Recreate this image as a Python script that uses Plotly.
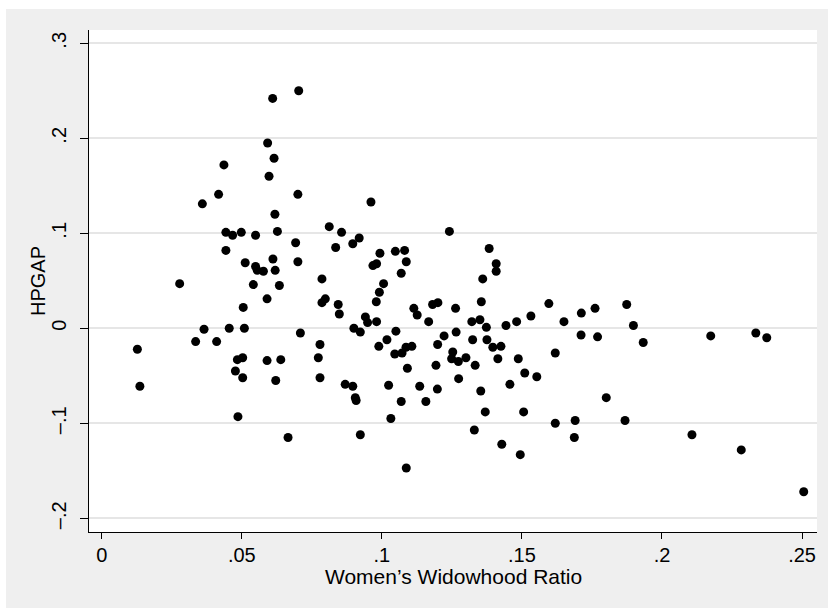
import plotly.graph_objects as go

# Women's Widowhood Ratio (x) and HPGAP (y)
widowhood = [
    0.0703, 0.0610, 0.0592, 0.0615, 0.0436, 0.0597, 0.0417, 0.0700, 0.0359, 0.0618,
    0.0443, 0.0467, 0.0498, 0.0549, 0.0627, 0.0812,
    0.0692, 0.0835, 0.0443, 0.0512, 0.0611, 0.0700, 0.0549, 0.0555, 0.0577, 0.0619,
    0.0278, 0.0541, 0.0634, 0.0786, 0.0590, 0.0798, 0.0786, 0.0844, 0.0505, 0.0848,
    0.0365, 0.0455, 0.0509, 0.0709, 0.0127, 0.0335, 0.0410, 0.0779, 0.0484, 0.0503,
    0.0590, 0.0639, 0.0773, 0.0477, 0.0503, 0.0621, 0.0779, 0.0136, 0.0486, 0.0665,
    0.0856, 0.0961, 0.0896, 0.0919, 0.0993, 0.0968, 0.0981, 0.1048, 0.1081, 0.1087,
    0.1069, 0.1006, 0.0991, 0.0980, 0.1241, 0.1383, 0.1408, 0.1408, 0.1360, 0.1355,
    0.1114, 0.1126, 0.1181, 0.1200, 0.1167, 0.1263, 0.1321, 0.1350, 0.1373, 0.1443,
    0.1481, 0.1532, 0.1596, 0.0900, 0.0923, 0.0941, 0.0949, 0.0981, 0.0989, 0.1018,
    0.1050, 0.1046, 0.1072, 0.1086, 0.1107, 0.1091, 0.1024, 0.0869, 0.0896, 0.0905,
    0.0908, 0.0923, 0.1032, 0.1069, 0.1135, 0.1157, 0.1198, 0.1087, 0.1193, 0.1199,
    0.1222, 0.1265, 0.1253, 0.1249, 0.1273, 0.1300, 0.1274, 0.1324, 0.1333, 0.1375,
    0.1396, 0.1425, 0.1414, 0.1487, 0.1510, 0.1553, 0.1457, 0.1353, 0.1369, 0.1330,
    0.1428, 0.1494, 0.1506,
    0.1650, 0.1712, 0.1761, 0.1874, 0.1898, 0.1711, 0.1770, 0.1933, 0.1619, 0.2174,
    0.2335, 0.2374, 0.1801, 0.1619, 0.1690, 0.1687, 0.1868, 0.2107, 0.2283, 0.2506,
]
hpgap = [
    0.250, 0.242, 0.195, 0.179, 0.172, 0.160, 0.141, 0.141, 0.131, 0.120,
    0.101, 0.098, 0.101, 0.098, 0.102, 0.107,
    0.090, 0.085, 0.082, 0.069, 0.073, 0.070, 0.065, 0.061, 0.060, 0.061,
    0.047, 0.046, 0.045, 0.052, 0.031, 0.031, 0.027, 0.025, 0.022, 0.015,
    -0.001, 0.000, 0.000, -0.005, -0.022, -0.014, -0.014, -0.017, -0.033, -0.031,
    -0.034, -0.033, -0.031, -0.045, -0.052, -0.055, -0.052, -0.061, -0.093, -0.115,
    0.101, 0.133, 0.089, 0.095, 0.079, 0.066, 0.068, 0.081, 0.082, 0.070,
    0.058, 0.047, 0.038, 0.028, 0.102, 0.084, 0.068, 0.060, 0.052, 0.028,
    0.021, 0.014, 0.025, 0.027, 0.007, 0.021, 0.007, 0.009, 0.001, 0.003,
    0.007, 0.013, 0.026, 0.000, -0.004, 0.012, 0.006, 0.007, -0.019, -0.012,
    -0.003, -0.027, -0.026, -0.020, -0.019, -0.042, -0.060, -0.059, -0.061, -0.073,
    -0.076, -0.112, -0.095, -0.077, -0.061, -0.077, -0.064, -0.147, -0.039, -0.017,
    -0.008, -0.004, -0.025, -0.032, -0.035, -0.031, -0.053, -0.012, -0.039, -0.012,
    -0.020, -0.019, -0.032, -0.032, -0.047, -0.051, -0.059, -0.066, -0.088, -0.107,
    -0.122, -0.133, -0.088,
    0.007, 0.016, 0.021, 0.025, 0.003, -0.007, -0.009, -0.015, -0.026, -0.008,
    -0.005, -0.010, -0.073, -0.100, -0.097, -0.115, -0.097, -0.112, -0.128, -0.172,
]

x_ticks = [0, 0.05, 0.10, 0.15, 0.20, 0.25]
x_tick_labels = ["0", ".05", ".1", ".15", ".2", ".25"]
y_ticks = [-0.2, -0.1, 0, 0.1, 0.2, 0.3]
y_tick_labels = ["\u2013.2", "\u2013.1", "0", ".1", ".2", ".3"]

x_title = "Women\u2019s Widowhood Ratio"
y_title = "HPGAP"

FONT = "Liberation Sans, Arial, Helvetica, sans-serif"
BG = "#EFEFEF"

fig = go.Figure()
fig.add_trace(go.Scatter(
    x=widowhood, y=hpgap, mode="markers",
    marker=dict(size=9, color="black", line=dict(width=0)),
    hoverinfo="skip", showlegend=False,
))

fig.update_layout(
    width=828, height=608,
    margin=dict(l=89, r=11, t=30, b=76, pad=0),
    paper_bgcolor=BG,
    plot_bgcolor="white",
    font=dict(family=FONT, size=20, color="black"),
    showlegend=False,
    xaxis=dict(
        range=[-0.00457, 0.25534],
        tickvals=x_ticks, ticktext=x_tick_labels,
        showgrid=False, zeroline=False,
        showline=True, linecolor="black", linewidth=1,
        ticks="outside", ticklen=6, tickwidth=1, tickcolor="black",
        tickfont=dict(family=FONT, size=20, color="black"),
        ticklabelstandoff=-1,
    ),
    yaxis=dict(
        range=[-0.21442, 0.31400],
        tickvals=y_ticks, ticktext=y_tick_labels,
        tickangle=-90,
        showgrid=True, gridcolor="#E6E6E6", gridwidth=1.5,
        zeroline=False,
        showline=True, linecolor="black", linewidth=1,
        ticks="outside", ticklen=8, tickwidth=1, tickcolor="black",
        tickfont=dict(family=FONT, size=20, color="black"),
        ticklabelstandoff=6,
    ),
    shapes=[
        # white strips outside the gray graph region (top and left)
        dict(type="rect", xref="paper", yref="paper", x0=-0.2, x1=1.1,
             y0=1.0418, y1=1.2, fillcolor="white", line=dict(width=0), layer="below"),
        dict(type="rect", xref="paper", yref="paper", x0=-0.2, x1=-0.1140,
             y0=-0.3, y1=1.2, fillcolor="white", line=dict(width=0), layer="below"),
    ],
    annotations=[
        dict(text=x_title, xref="paper", yref="paper", x=0.5, y=(532 - 576) / 502,
             xanchor="center", yanchor="middle", showarrow=False,
             font=dict(family=FONT, size=21, color="black")),
        dict(text=y_title, xref="paper", yref="paper", x=(38 - 89) / 728, y=0.5,
             xanchor="center", yanchor="middle", textangle=-90, showarrow=False,
             font=dict(family=FONT, size=20, color="black")),
    ],
)

fig.write_html("out.html", config={"displayModeBar": False})
